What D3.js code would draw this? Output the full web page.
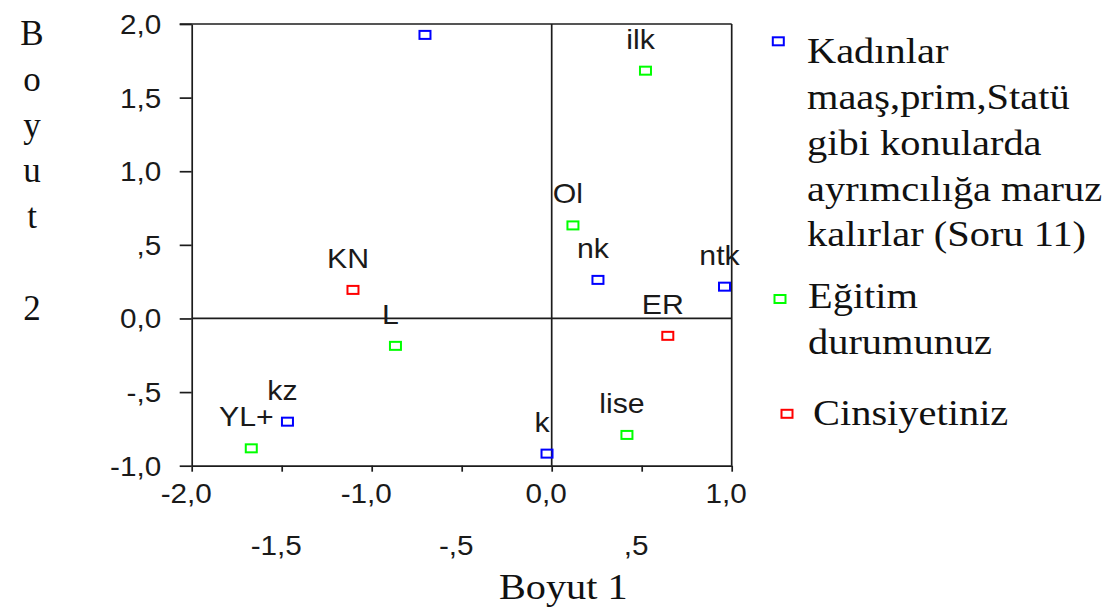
<!DOCTYPE html>
<html><head><meta charset="utf-8">
<script src="https://cdn.jsdelivr.net/npm/d3@7"></script>
<style>
body{margin:0;background:#fff;}
svg{display:block;}
</style></head><body>
<svg id="chart" width="1120" height="614"></svg>
<script>
// ---------------- data ----------------
const groupNames = ["Kadınlar maaş,prim,Statü gibi konularda ayrımcılığa maruz kalırlar (Soru 11)", "Eğitim durumunuz", "Cinsiyetiniz"];
const legendLines = [["Kadınlar","maaş,prim,Statü","gibi konularda","ayrımcılığa maruz","kalırlar (Soru 11)"],["Eğitim","durumunuz"],["Cinsiyetiniz"]];
const groupColors = ["#0000ff","#00ff00","#ff0000"];
const pointLabels = ["", "nk", "ntk", "kz", "k", "ilk", "Ol", "L", "lise", "YL+", "KN", "ER"];
const pointGroup  = [0, 0, 0, 0, 0, 1, 1, 1, 1, 1, 2, 2];
const dim1 = [-0.704, 0.257, 0.960, -1.468, -0.026, 0.521, 0.118, -0.868, 0.418, -1.669, -1.104, 0.645];
const dim2 = [ 1.926, 0.262, 0.216, -0.701, -0.918, 1.683, 0.632, -0.186, -0.791, -0.882, 0.194, -0.118];
const xTickValues = [-2, -1.5, -1, -0.5, 0, 0.5, 1];
const xTickLabels = ["-2,0", "-1,5", "-1,0", "-,5", "0,0", ",5", "1,0"];
const yTickValues = [-1, -0.5, 0, 0.5, 1, 1.5, 2];
const yTickLabels = ["-1,0", "-,5", "0,0", ",5", "1,0", "1,5", "2,0"];
const xTitle = "Boyut 1";
const yTitle = "Boyut 2";

// ---------------- layout ----------------
const svg = d3.select("#chart");
const L = 191.7, R = 731.7, T = 24, B = 465.7;
const x = d3.scaleLinear().domain([-2, 1]).range([L, R]);
const y = d3.scaleLinear().domain([-1, 2]).range([B, T]);
const lineColor = "#1c1c1c", lineW = 1.7;
const sans = "'Liberation Sans', Arial, sans-serif";
const serif = "'Liberation Serif', 'Times New Roman', serif";
const SX = 1.1;

// frame top and right
svg.append("line").attr("x1", L - 12).attr("x2", R).attr("y1", T).attr("y2", T)
  .attr("stroke", lineColor).attr("stroke-width", lineW);
svg.append("line").attr("x1", R).attr("x2", R).attr("y1", T).attr("y2", B)
  .attr("stroke", lineColor).attr("stroke-width", lineW);
// reference lines at 0
svg.append("line").attr("x1", x(0)).attr("x2", x(0)).attr("y1", T).attr("y2", B)
  .attr("stroke", lineColor).attr("stroke-width", lineW);
svg.append("line").attr("x1", L).attr("x2", R).attr("y1", y(0)).attr("y2", y(0))
  .attr("stroke", lineColor).attr("stroke-width", lineW);

// left axis
const yAxis = svg.append("g").attr("transform", `translate(${L},0)`)
  .call(d3.axisLeft(y).tickValues(yTickValues).tickFormat((d, i) => yTickLabels[i]).tickSize(12).tickSizeOuter(0));
// bottom axis
const xAxis = svg.append("g").attr("transform", `translate(0,${B})`)
  .call(d3.axisBottom(x).tickValues(xTickValues).tickFormat((d, i) => xTickLabels[i]).tickSize(6).tickSizeOuter(0));

[yAxis, xAxis].forEach(g => {
  g.select(".domain").attr("stroke", lineColor).attr("stroke-width", lineW);
  g.selectAll(".tick line").attr("stroke", lineColor).attr("stroke-width", lineW);
  g.selectAll(".tick text").attr("fill", "#1a1a1a").style("font-family", sans).style("font-size", "27px");
});
yAxis.selectAll(".tick text").attr("text-anchor", "end").attr("dy", 0).attr("y", 9.5)
  .attr("x", -30.5 / SX).attr("transform", `scale(${SX},1)`);
xAxis.selectAll(".tick text").attr("text-anchor", "middle").attr("dy", 0)
  .attr("y", (d, i) => i % 2 === 0 ? 37.6 : 89.3)
  .attr("x", -6 / SX).attr("transform", `scale(${SX},1)`);

// points
const pts = pointLabels.map((lab, i) => ({lab, g: pointGroup[i], a: dim1[i], b: dim2[i]}));
const pg = svg.append("g");
pg.selectAll("rect").data(pts).join("rect")
  .attr("x", d => x(d.a) - 5.5).attr("y", d => y(d.b) - 4)
  .attr("width", 11).attr("height", 8)
  .attr("fill", "none").attr("stroke", d => groupColors[d.g]).attr("stroke-width", 2);
pg.selectAll("text").data(pts.filter(d => d.lab)).join("text")
  .attr("transform", d => `translate(${x(d.a) - 5},${y(d.b) - 22}) scale(1.08,1)`)
  .attr("text-anchor", "middle").attr("fill", "#1a1a1a")
  .style("font-family", sans).style("font-size", "28px")
  .text(d => d.lab);

// y title: stacked characters
svg.append("g").selectAll("text").data(yTitle.split("")).join("text")
  .attr("x", 32).attr("y", (d, i) => 45 + i * 45.8)
  .attr("text-anchor", "middle").attr("fill", "#111")
  .style("font-family", serif).style("font-size", "35px")
  .text(d => d);

// x title
svg.append("text")
  .attr("transform", `translate(563.3,599.3) scale(1.12,1)`)
  .attr("text-anchor", "middle").attr("fill", "#111")
  .style("font-family", serif).style("font-size", "36px")
  .text(xTitle);

// legend
const legendPos = [
  {mx: 778.3, my: 41.3, tx: 807, ty: 63.3},
  {mx: 780, my: 299, tx: 808, ty: 308.3},
  {mx: 787, my: 413.8, tx: 813, ty: 425}
];
const lg = svg.append("g");
groupNames.forEach((name, gi) => {
  const p = legendPos[gi];
  lg.append("rect").attr("x", p.mx - 5.5).attr("y", p.my - 4).attr("width", 11).attr("height", 8)
    .attr("fill", "none").attr("stroke", groupColors[gi]).attr("stroke-width", 2);
  const tg = lg.append("g").attr("transform", `translate(${p.tx},${p.ty}) scale(1.155,1)`);
  tg.selectAll("text").data(legendLines[gi]).join("text")
    .attr("x", 0).attr("y", (d, i) => i * 45.8)
    .attr("fill", "#111").style("font-family", serif).style("font-size", "35px")
    .text(d => d);
});
</script>
</body></html>
